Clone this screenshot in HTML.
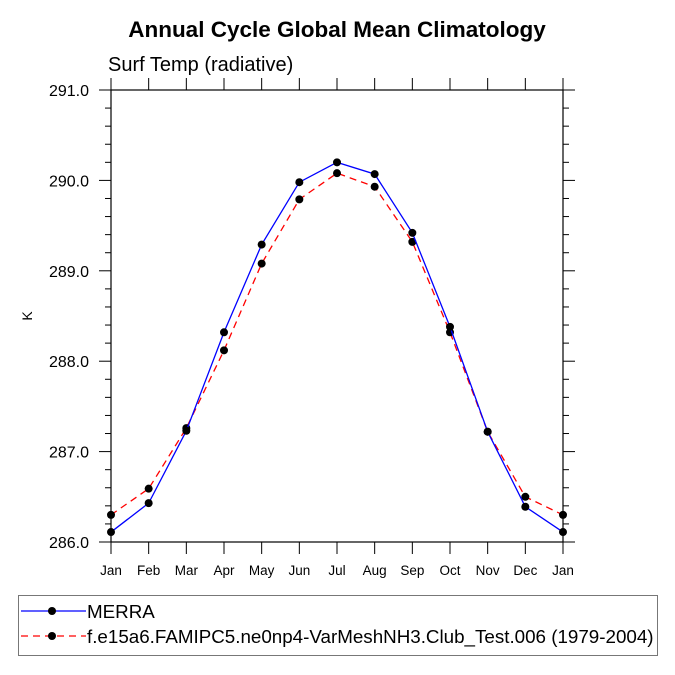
<!DOCTYPE html>
<html><head><meta charset="utf-8"><style>body{margin:0;background:#fff}svg{display:block;font-family:"Liberation Sans",sans-serif}</style></head>
<body>
<svg id="c" width="675" height="675">
<text x="337" y="37" text-anchor="middle" font-size="22.5" font-weight="bold">Annual Cycle Global Mean Climatology</text>
<text x="108" y="71" font-size="20">Surf Temp (radiative)</text>
<text transform="translate(32,316) rotate(-90)" text-anchor="middle" font-size="14">K</text>
<g id="ax"></g><g id="marks"></g>
<rect x="18.5" y="595.5" width="639" height="60" fill="none" stroke="#777" stroke-width="1"/>
<g>
<line x1="21" y1="611" x2="86" y2="611" stroke="#00f" stroke-width="1.2"/><circle cx="52" cy="611" r="4" fill="#000"/>
<text x="87" y="618" font-size="18.8">MERRA</text></g>
<g>
<line x1="21" y1="636" x2="86" y2="636" stroke="#f00" stroke-width="1.2" stroke-dasharray="7,5"/><circle cx="52" cy="636" r="4" fill="#000"/>
<text x="87" y="643" font-size="18.8">f.e15a6.FAMIPC5.ne0np4-VarMeshNH3.Club_Test.006 (1979-2004)</text></g>
</svg>
<script>
const months=["Jan","Feb","Mar","Apr","May","Jun","Jul","Aug","Sep","Oct","Nov","Dec","Jan"];
const merra=[286.11,286.43,287.23,288.32,289.29,289.98,290.20,290.07,289.42,288.38,287.22,286.39,286.11];
const model=[286.30,286.59,287.26,288.12,289.08,289.79,290.08,289.93,289.32,288.32,287.22,286.50,286.30];
const yTicks=[286,287,288,289,290,291];
const NS="http://www.w3.org/2000/svg";
const L=111,R=563,T=90,B=542,yMin=286,yMax=291;
const X=i=>L+(R-L)*i/(months.length-1);
const Y=v=>B-(B-T)*(v-yMin)/(yMax-yMin);
function mk(t,a,p){const e=document.createElementNS(NS,t);for(const k in a)e.setAttribute(k,a[k]);(p||document.getElementById('ax')).appendChild(e);return e;}
const ax=document.getElementById('ax');
let frame=mk('rect',{x:L,y:T,width:R-L,height:B-T,fill:'none',stroke:'#000','stroke-width':1.2});


months.forEach((m,i)=>{const x=X(i);
mk('line',{x1:x,y1:B,x2:x,y2:B+12,stroke:'#000'});mk('line',{x1:x,y1:T,x2:x,y2:T-12,stroke:'#000'});
const t=mk('text',{x:x,y:B+33,'text-anchor':'middle','font-size':13.5});t.textContent=m;

});
for(let v=yMin;v<=yMax+1e-9;v+=0.2){const y=Y(v);const maj=Math.abs(v-Math.round(v))<1e-6;const len=maj?12:6;
mk('line',{x1:L,y1:y,x2:L-len,y2:y,stroke:'#000'});mk('line',{x1:R,y1:y,x2:R+len,y2:y,stroke:'#000'});}
yTicks.forEach(v=>{const t=mk('text',{x:89,y:Y(v)+6,'text-anchor':'end','font-size':16});t.textContent=v.toFixed(1);

});
const g=document.getElementById('marks');
function series(d,col,dash,name){const pl=mk('polyline',{points:d.map((v,i)=>X(i)+','+Y(v)).join(' '),fill:'none',stroke:col,'stroke-width':1.3},g);
if(dash)pl.setAttribute('stroke-dasharray','7,5');


d.forEach((v,i)=>{const c=mk('circle',{cx:X(i),cy:Y(v),r:4,fill:'#000'},g);

});}
series(model,'#f00',true,'model');
series(merra,'#00f',false,'merra');
</script>
</body></html>
